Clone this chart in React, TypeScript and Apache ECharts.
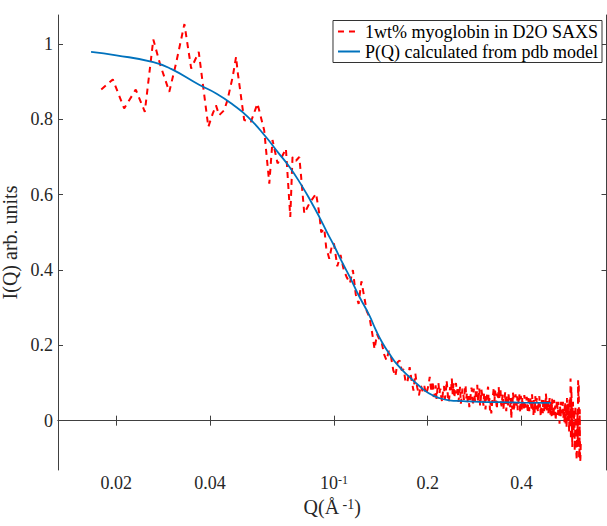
import React, { useEffect, useRef } from "react";
import * as echarts from "echarts";

// Measured SAXS data [Q (Å^-1), I (arb. units)], split by Q range
const measuredLowQ = [
  [0.0179, 0.879], [0.0195, 0.906], [0.0212, 0.829], [0.0231, 0.879], [0.0247, 0.82],
  [0.0263, 1.012], [0.0277, 0.944], [0.0296, 0.873], [0.0311, 0.948], [0.0331, 1.053],
  [0.0348, 0.935], [0.0368, 0.979], [0.0395, 0.78], [0.0408, 0.815], [0.0418, 0.837],
  [0.0428, 0.811], [0.0444, 0.824], [0.0455, 0.851], [0.0473, 0.913], [0.0485, 0.966],
  [0.049, 0.93], [0.0503, 0.86], [0.0515, 0.798], [0.0541, 0.793], [0.0568, 0.842],
  [0.0597, 0.771], [0.062, 0.629], [0.0635, 0.745], [0.0659, 0.683], [0.068, 0.7],
  [0.0701, 0.722], [0.0724, 0.541], [0.0736, 0.7], [0.0755, 0.69], [0.0774, 0.7],
  [0.0785, 0.645], [0.0803, 0.55], [0.0833, 0.576], [0.0876, 0.603], [0.0897, 0.55],
  [0.091, 0.5], [0.0931, 0.51], [0.0944, 0.46], [0.0966, 0.43], [0.0988, 0.47],
];
const measuredMidQ = [
  [0.1, 0.47], [0.1025, 0.41], [0.105, 0.44], [0.1075, 0.4], [0.11, 0.38],
  [0.1125, 0.365], [0.115, 0.4], [0.1175, 0.335], [0.12, 0.31], [0.1225, 0.37],
  [0.125, 0.33], [0.1275, 0.29], [0.13, 0.275], [0.1325, 0.235], [0.135, 0.19],
  [0.1375, 0.23], [0.14, 0.215], [0.1425, 0.205], [0.145, 0.175], [0.1475, 0.16],
  [0.15, 0.185], [0.1525, 0.17], [0.155, 0.134], [0.1575, 0.118], [0.16, 0.155],
  [0.1625, 0.16], [0.165, 0.134], [0.1675, 0.136], [0.17, 0.1], [0.1725, 0.107],
  [0.175, 0.142], [0.1775, 0.107], [0.18, 0.08], [0.1825, 0.125], [0.185, 0.089],
  [0.1875, 0.067], [0.19, 0.094], [0.1925, 0.078], [0.195, 0.092], [0.1975, 0.07],
  [0.2, 0.085],
];
const measuredHighQ = [
  [0.2015, 0.098], [0.203, 0.116], [0.2045, 0.09], [0.206, 0.076], [0.2075, 0.105],
  [0.209, 0.063], [0.2105, 0.07], [0.212, 0.094], [0.2135, 0.058], [0.215, 0.086],
  [0.2165, 0.1], [0.218, 0.072], [0.2195, 0.085], [0.221, 0.063], [0.2225, 0.05],
  [0.224, 0.08], [0.2255, 0.092], [0.227, 0.058], [0.2285, 0.07], [0.23, 0.107],
  [0.2315, 0.08], [0.233, 0.049], [0.2345, 0.06], [0.236, 0.089], [0.2375, 0.075],
  [0.239, 0.112], [0.2405, 0.07], [0.242, 0.099], [0.2435, 0.06], [0.245, 0.086],
  [0.2465, 0.1], [0.248, 0.072], [0.2495, 0.09], [0.251, 0.05], [0.2525, 0.068],
  [0.254, 0.09], [0.2555, 0.045], [0.257, 0.063], [0.2585, 0.085], [0.26, 0.072],
  [0.2615, 0.055], [0.263, 0.08], [0.2645, 0.095], [0.266, 0.059], [0.2675, 0.075],
  [0.269, 0.045], [0.2705, 0.065], [0.272, 0.036], [0.2735, 0.05], [0.275, 0.072],
  [0.2765, 0.088], [0.278, 0.063], [0.2795, 0.04], [0.281, 0.085], [0.2825, 0.07],
  [0.284, 0.05], [0.2855, 0.078], [0.287, 0.063], [0.2885, 0.095], [0.29, 0.049],
  [0.2915, 0.06], [0.293, 0.086], [0.2945, 0.04], [0.296, 0.055], [0.2975, 0.082],
  [0.299, 0.07], [0.3005, 0.058], [0.302, 0.04], [0.3035, 0.075], [0.305, 0.066],
  [0.3065, 0.03], [0.308, 0.052], [0.3095, 0.062], [0.311, 0.078], [0.3125, 0.09],
  [0.314, 0.045], [0.3155, 0.06], [0.317, 0.027], [0.3185, 0.05], [0.32, 0.019],
  [0.3215, 0.04], [0.323, 0.06], [0.3245, 0.072], [0.326, 0.089], [0.3275, 0.05],
  [0.329, 0.08], [0.3305, 0.066], [0.332, 0.05], [0.3335, 0.03], [0.335, 0.072],
  [0.3365, 0.055], [0.338, 0.089], [0.3395, 0.06], [0.341, 0.075], [0.3425, 0.085],
  [0.344, 0.045], [0.3455, 0.038], [0.347, 0.06], [0.3485, 0.07], [0.35, 0.03],
  [0.3515, 0.05], [0.353, 0.058], [0.3545, 0.075], [0.356, 0.04], [0.3575, 0.025],
  [0.359, 0.068], [0.3605, 0.052], [0.362, 0.035], [0.3635, 0.07], [0.365, 0.055],
  [0.3665, 0.045], [0.368, 0.036], [0.3695, 0.06], [0.371, 0.005], [0.3725, 0.04],
  [0.374, 0.03], [0.3755, 0.075], [0.377, 0.062], [0.3785, 0.025], [0.38, 0.045],
  [0.3815, 0.058], [0.383, 0.07], [0.3845, 0.05], [0.386, 0.04], [0.3875, 0.065],
  [0.389, 0.028], [0.3905, 0.048], [0.392, 0.055], [0.3935, 0.072], [0.395, 0.041],
  [0.3965, 0.02], [0.398, 0.066], [0.3995, 0.052], [0.401, 0.03], [0.4025, 0.062],
  [0.404, 0.05], [0.4055, 0.04], [0.407, 0.027], [0.4085, 0.068], [0.41, 0.058],
  [0.4115, 0.035], [0.413, 0.04], [0.4145, 0.05], [0.416, 0.063], [0.4175, 0.045],
  [0.419, 0.02], [0.4205, 0.06], [0.422, 0.045], [0.4235, 0.025], [0.425, 0.035],
  [0.4265, 0.05], [0.428, 0.06], [0.4295, 0.042], [0.431, 0.028], [0.4325, 0.07],
  [0.434, 0.05], [0.4355, 0.035], [0.437, 0.015], [0.4385, 0.055], [0.44, 0.04],
  [0.4415, 0.02], [0.443, 0.065], [0.4445, 0.05], [0.446, 0.03], [0.4475, 0.06],
  [0.449, 0.048], [0.4505, 0.035], [0.452, 0.022], [0.4535, 0.04], [0.455, 0.055],
  [0.4565, 0.065], [0.458, 0.035], [0.4595, 0.045], [0.461, 0.01], [0.4625, 0.03],
  [0.464, 0.045], [0.4655, 0.055], [0.467, 0.03], [0.4685, 0.02], [0.47, 0.06],
  [0.4715, 0.045], [0.473, 0.025], [0.4745, 0.04], [0.476, 0.05], [0.4775, 0.03],
  [0.479, 0.072], [0.4805, 0.06], [0.482, 0.04], [0.4835, 0.025], [0.485, 0.058],
  [0.4865, 0.048], [0.488, 0.02], [0.4895, 0.035], [0.491, 0.045], [0.4925, 0.06],
  [0.494, 0.03], [0.4955, 0.015], [0.497, 0.05], [0.4985, 0.04], [0.5, 0.012],
  [0.5015, 0.058], [0.503, 0.04], [0.5045, 0.03], [0.506, 0.025], [0.5075, 0.01],
  [0.509, 0.055], [0.5105, 0.045], [0.512, 0.03], [0.5135, 0.04], [0.515, 0.0],
  [0.5165, 0.02], [0.518, 0.035], [0.5195, 0.055], [0.521, 0.045], [0.5225, 0.03],
  [0.524, 0.015], [0.5255, 0.05], [0.527, 0.036], [0.5285, 0.025], [0.53, -0.008],
  [0.5315, 0.04], [0.533, 0.03], [0.5345, 0.01], [0.536, 0.05], [0.5375, 0.045],
  [0.539, 0.02], [0.5405, 0.03], [0.542, 0.04], [0.5435, 0.05], [0.545, 0.005],
  [0.5465, 0.02], [0.548, 0.03],
];
const measuredTailQ = [
  [0.5495, -0.005], [0.551, 0.045], [0.5525, 0.05], [0.554, -0.01], [0.5555, 0.04],
  [0.557, 0.02], [0.5585, -0.02], [0.56, 0.06], [0.5615, 0.035], [0.563, 0.0],
  [0.5645, 0.045], [0.566, 0.03], [0.5675, 0.01], [0.569, -0.03], [0.5705, 0.06],
  [0.572, 0.05], [0.5735, -0.01], [0.575, 0.112], [0.5765, -0.05], [0.578, 0.089],
  [0.5795, 0.06], [0.581, -0.02], [0.5825, -0.07], [0.584, 0.03], [0.5855, 0.05],
  [0.587, -0.044], [0.5885, -0.02], [0.59, 0.01], [0.5915, 0.03], [0.593, -0.08],
  [0.5945, -0.04], [0.596, 0.04], [0.5975, 0.02], [0.599, -0.06], [0.6005, -0.09],
  [0.602, -0.105], [0.6035, -0.03], [0.605, 0.02], [0.6065, -0.07], [0.608, 0.107],
  [0.6095, 0.05], [0.611, 0.1], [0.6125, -0.1], [0.614, -0.09], [0.6155, 0.03],
  [0.617, -0.11], [0.6185, -0.1], [0.62, -0.06],
];

// Model curve P(Q) calculated from the pdb structure
const modelQ = [
  0.0166, 0.02, 0.0263, 0.03, 0.0369, 0.042, 0.0472, 0.053, 0.0605, 0.066,
  0.0719, 0.078, 0.0846, 0.0897, 0.095, 0.1, 0.106, 0.113, 0.12, 0.1298,
  0.1364, 0.143, 0.1505, 0.16, 0.1745, 0.188, 0.2023, 0.218, 0.2346, 0.26,
  0.2928, 0.3395, 0.4, 0.4973,
];
const modelI = [
  0.979, 0.97, 0.952, 0.934, 0.892, 0.868, 0.84, 0.806, 0.753, 0.713,
  0.674, 0.63, 0.58, 0.541, 0.5, 0.465, 0.422, 0.378, 0.333, 0.28,
  0.24, 0.207, 0.178, 0.148, 0.116, 0.092, 0.072, 0.06, 0.054, 0.052,
  0.05, 0.049, 0.048, 0.047,
];

const xTickValues = [0.02, 0.04, 0.1, 0.2, 0.4];
const yTickValues = [0, 0.2, 0.4, 0.6, 0.8, 1];
const seriesNames = ["1wt% myoglobin in D2O SAXS", "P(Q) calculated from pdb model"];

export default function App() {
  const ref = useRef<HTMLDivElement>(null);

  useEffect(() => {
    if (!ref.current) return;
    const chart = echarts.init(ref.current, null, { renderer: "svg" });
    const font = "'Liberation Serif', 'Times New Roman', serif";
    const axisColor = "#404040";
    const textColor = "#262626";
    const xMin = 0.013;
    const xMax = 0.75;
    const yMin = -0.131;
    const yMax = 1.077;

    const tickStyle = { show: true, inside: true, length: 5, lineStyle: { color: axisColor, width: 1 } };
    const lineStyle = { show: true, lineStyle: { color: axisColor, width: 1 } };

    const measured = [...measuredLowQ, ...measuredMidQ, ...measuredHighQ, ...measuredTailQ];

    const option: any = {
      animation: false,
      backgroundColor: "#ffffff",
      grid: {
        left: 58,
        right: 0.5,
        top: 15,
        bottom: 56,
        containLabel: false,
        outerBoundsMode: "none",
      },
      legend: {
        data: seriesNames,
        orient: "vertical",
        right: 5,
        top: 20.5,
        padding: [2, 4, 2, 4],
        itemGap: 2,
        itemWidth: 22,
        itemHeight: 14,
        borderColor: "#333333",
        borderWidth: 1,
        backgroundColor: "#ffffff",
        itemStyle: { opacity: 0 },
        textStyle: { fontFamily: font, fontSize: 18, color: "#000000" },
      },
      xAxis: [
        {
          type: "log",
          logBase: 10,
          min: xMin,
          max: xMax,
          position: "bottom",
          axisLine: lineStyle,
          axisTick: { ...tickStyle, customValues: xTickValues },
          minorTick: { show: false },
          splitLine: { show: false },
          axisLabel: {
            customValues: xTickValues,
            margin: 4,
            color: textColor,
            fontFamily: font,
            fontSize: 18,
            formatter: (v: number) =>
              Math.abs(v - 0.1) < 1e-9 ? "{b|10}{s|-1}" : "{b|" + String(Math.round(v * 100) / 100) + "}",
            rich: {
              b: { fontFamily: font, fontSize: 18, color: textColor },
              s: { fontFamily: font, fontSize: 12, color: textColor, verticalAlign: "top" },
            },
          },
          name: "{t|Q(Å}{s| -1}{t|)}",
          nameLocation: "middle",
          nameGap: 27,
          nameTextStyle: {
            color: textColor,
            fontFamily: font,
            fontSize: 20,
            rich: {
              t: { fontFamily: font, fontSize: 20, color: textColor },
              s: { fontFamily: font, fontSize: 14, color: textColor, verticalAlign: "top" },
            },
          },
        },
        {
          type: "log",
          logBase: 10,
          min: xMin,
          max: xMax,
          position: "top",
          axisLine: lineStyle,
          axisTick: { ...tickStyle, customValues: xTickValues },
          minorTick: { show: false },
          splitLine: { show: false },
          axisLabel: { show: false },
        },
      ],
      yAxis: [
        {
          type: "value",
          min: yMin,
          max: yMax,
          position: "left",
          axisLine: lineStyle,
          axisTick: { ...tickStyle, customValues: yTickValues },
          splitLine: { show: false },
          axisLabel: {
            customValues: yTickValues,
            margin: 5,
            color: textColor,
            fontFamily: font,
            fontSize: 18,
            formatter: (v: number) => String(Math.round(v * 10) / 10),
          },
          name: "I(Q) arb. units",
          nameLocation: "middle",
          nameGap: 30,
          nameTextStyle: { color: textColor, fontFamily: font, fontSize: 20 },
        },
        {
          type: "value",
          min: yMin,
          max: yMax,
          position: "right",
          axisLine: lineStyle,
          axisTick: { ...tickStyle, customValues: yTickValues },
          splitLine: { show: false },
          axisLabel: { show: false },
        },
      ],
      series: [
        {
          name: seriesNames[0],
          type: "line",
          xAxisIndex: 0,
          yAxisIndex: 0,
          data: measured,
          symbol: "none",
          color: "#ff0000",
          lineStyle: { color: "#ff0000", width: 2, type: [6, 5] },
          z: 2,
        },
        {
          name: seriesNames[1],
          type: "line",
          xAxisIndex: 0,
          yAxisIndex: 0,
          data: modelQ.map((q, i) => [q, modelI[i]]),
          symbol: "none",
          smooth: true,
          color: "#0072bd",
          lineStyle: { color: "#0072bd", width: 1.8 },
          z: 3,
        },
      ],
    };

    chart.setOption(option);
    return () => chart.dispose();
  }, []);

  return (
    <div
      ref={ref}
      style={{ position: "absolute", left: 0, top: 0, width: 607, height: 526, background: "#fff" }}
    />
  );
}
